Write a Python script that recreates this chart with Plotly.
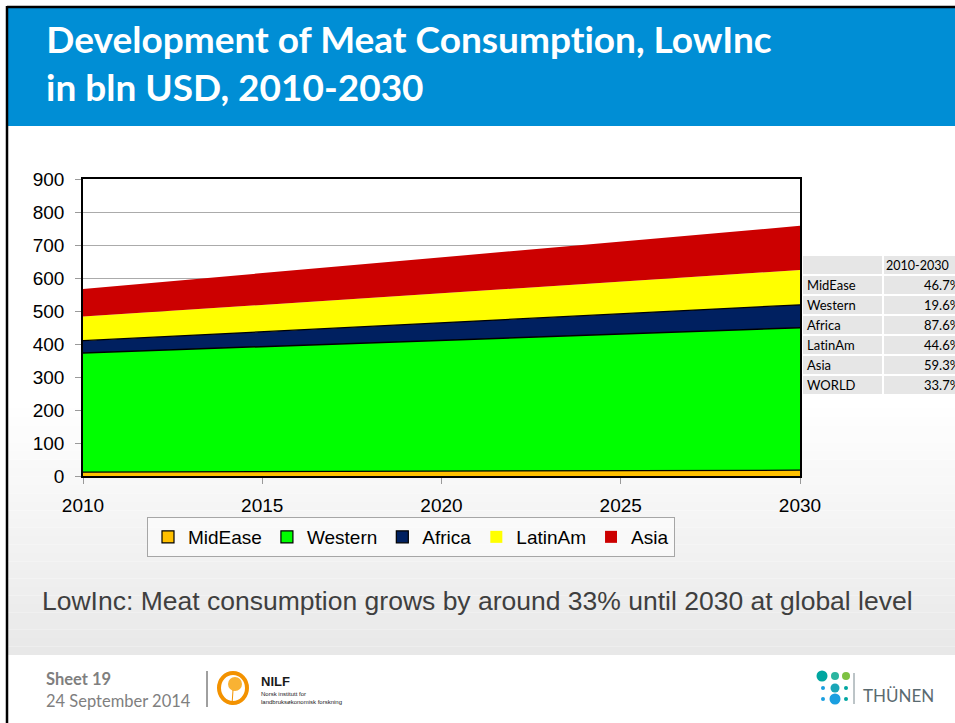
import plotly.graph_objects as go

# ---- data -------------------------------------------------------------
years = [2010, 2030]
regions = ["MidEase", "Western", "Africa", "LatinAm", "Asia"]
mid_ease = [12.0, 17.6]
western = [361.0, 431.8]
africa = [37.0, 69.4]
latin_am = [73.0, 105.6]
asia = [84.0, 133.8]

growth_labels = ["MidEase", "Western", "Africa", "LatinAm", "Asia", "WORLD"]
growth_pct = [46.7, 19.6, 87.6, 44.6, 59.3, 33.7]
growth_header = "2010-2030"

x_ticks = [2010, 2015, 2020, 2025, 2030]
y_ticks = [0, 100, 200, 300, 400, 500, 600, 700, 800, 900]

series = [mid_ease, western, africa, latin_am, asia]
fill_colors = ["#FFC000", "#00FF00", "#002060", "#FFFF00", "#CC0000"]
edge_widths = [1.2, 1.5, 1.2, 0, 0]

# ---- page geometry (pixels) ------------------------------------------
W, H = 955, 723
PL, PR, PT, PB = 83, 800, 179, 476   # plot-area box


def px(x):
    return (x - PL) / (PR - PL)


def py(y):
    return (PB - y) / (PB - PT)


fig = go.Figure()

for name, vals, col, lw in zip(regions, series, fill_colors, edge_widths):
    fig.add_trace(go.Scatter(
        x=years, y=vals, name=name, stackgroup="meat", mode="lines",
        fillcolor=col,
        line=dict(color="black" if lw else col, width=lw),
        showlegend=False, hoverinfo="x+y+name",
    ))

# square legend keys
for name, col, lw in zip(regions, fill_colors, edge_widths):
    fig.add_trace(go.Bar(
        x=[None], y=[None], name=name, marker_color=col,
        marker_line=dict(color="black" if lw else col, width=1.2 if lw else 0),
        showlegend=True,
    ))

shapes = []
annotations = []

# soft grey gradient toward the lower part of the slide
n_steps = 30
g_top, g_bot = 400, 655
for i in range(n_steps):
    y0 = g_top + (g_bot - g_top) * i / n_steps
    y1 = g_top + (g_bot - g_top) * (i + 1) / n_steps
    t = (i + 0.5) / n_steps
    v = int(round(255 - (255 - 232) * t))
    shapes.append(dict(type="rect", xref="paper", yref="paper",
                       x0=px(7), x1=px(W), y0=py(y1), y1=py(y0),
                       fillcolor=f"rgb({v},{v},{v})", line_width=0,
                       layer="below"))

# blue header band and frame
shapes.append(dict(type="rect", xref="paper", yref="paper",
                   x0=px(7), x1=px(W + 5), y0=py(126), y1=py(7),
                   fillcolor="#008ED5", line_width=0, layer="below"))
shapes.append(dict(type="line", xref="paper", yref="paper",
                   x0=px(7), x1=px(W + 5), y0=py(7), y1=py(7),
                   line=dict(color="black", width=2.5)))
shapes.append(dict(type="line", xref="paper", yref="paper",
                   x0=px(7), x1=px(7), y0=py(6), y1=py(H + 5),
                   line=dict(color="black", width=2.5)))

annotations.append(dict(
    text="<b>Development of Meat Consumption, LowInc</b>",
    xref="paper", yref="paper", x=px(44), y=py(39),
    xanchor="left", yanchor="middle", showarrow=False,
    font=dict(family="Lato", size=37, color="white")))
annotations.append(dict(text="<b>in bln USD, 2010-2030</b>",
                        xref="paper", yref="paper", x=px(44), y=py(86),
                        xanchor="left", yanchor="middle", showarrow=False,
                        font=dict(family="Lato", size=37, color="white")))

# growth table to the right of the chart
row_h = 20
tab_top = 256
c1x0, c1x1, c2x0, c2x1 = 803, 882, 884, 970
rows = [("", growth_header)] + [(lab, f"{v:.1f}%") for lab, v in zip(growth_labels, growth_pct)]
for i, (lab, val) in enumerate(rows):
    y0 = tab_top + i * row_h
    y1 = y0 + row_h - 2
    for xa, xb in ((c1x0, c1x1), (c2x0, c2x1)):
        shapes.append(dict(type="rect", xref="paper", yref="paper",
                           x0=px(xa), x1=px(xb), y0=py(y1), y1=py(y0),
                           fillcolor="#E6E6E6", line_width=0))
    yc = (y0 + y1) / 2
    if i == 0:
        annotations.append(dict(text=val, xref="paper", yref="paper",
                                x=px(884), y=py(yc), xanchor="left",
                                yanchor="middle", showarrow=False,
                                font=dict(family="Lato", size=12.5, color="black")))
    else:
        annotations.append(dict(text=lab, xref="paper", yref="paper",
                                x=px(805), y=py(yc), xanchor="left",
                                yanchor="middle", showarrow=False,
                                font=dict(family="Lato", size=13, color="black")))
        annotations.append(dict(text=val, xref="paper", yref="paper",
                                x=px(962), y=py(yc), xanchor="right",
                                yanchor="middle", showarrow=False,
                                font=dict(family="Lato", size=13, color="black")))

# key message line
annotations.append(dict(
    text="LowInc: Meat consumption grows by around 33% until 2030 at global level",
    xref="paper", yref="paper", x=px(40), y=py(601), xanchor="left",
    yanchor="middle", showarrow=False,
    font=dict(family="Liberation Sans", size=26.5, color="#3F3F3F")))

# footer: white strip, sheet info and logos
shapes.append(dict(type="rect", xref="paper", yref="paper",
                   x0=px(8.5), x1=px(W + 5), y0=py(H + 5), y1=py(655),
                   fillcolor="white", line_width=0, layer="below"))
annotations.append(dict(text="<b>Sheet 19</b>", xref="paper", yref="paper",
                        x=px(44), y=py(679), xanchor="left", yanchor="middle",
                        showarrow=False,
                        font=dict(family="Lato", size=16.5, color="#7F7F7F")))
annotations.append(dict(text="24 September 2014", xref="paper", yref="paper",
                        x=px(44), y=py(701), xanchor="left", yanchor="middle",
                        showarrow=False,
                        font=dict(family="Lato", size=16.5, color="#7F7F7F")))
shapes.append(dict(type="line", xref="paper", yref="paper",
                   x0=px(207), x1=px(207), y0=py(671), y1=py(707),
                   line=dict(color="#404040", width=1)))
# NILF emblem
shapes.append(dict(type="circle", xref="paper", yref="paper",
                   x0=px(219), x1=px(247), y0=py(703), y1=py(673),
                   line=dict(color="#F39200", width=4), fillcolor="rgba(0,0,0,0)"))
shapes.append(dict(type="circle", xref="paper", yref="paper",
                   x0=px(228), x1=px(242), y0=py(691), y1=py(677),
                   line_width=0, fillcolor="#F9B233"))
shapes.append(dict(type="line", xref="paper", yref="paper",
                   x0=px(233), x1=px(232), y0=py(690), y1=py(705),
                   line=dict(color="#F39200", width=1)))
annotations.append(dict(text="<b>NILF</b>", xref="paper", yref="paper",
                        x=px(259), y=py(681), xanchor="left", yanchor="middle",
                        showarrow=False,
                        font=dict(family="Liberation Sans", size=13, color="#1a1a1a")))
annotations.append(dict(text="Norsk institutt for<br>landbruksøkonomisk forskning",
                        xref="paper", yref="paper", x=px(259), y=py(698),
                        xanchor="left", yanchor="middle", showarrow=False,
                        align="left",
                        font=dict(family="Liberation Sans", size=6, color="#1a1a1a")))
# THÜNEN emblem
dots = [(822, 676, 5.5, "#00A6A0"), (835, 676, 4, "#2BB5A0"), (846, 676, 4, "#7DC242"),
        (823, 688, 2, "#1A9FE0"), (835, 688, 4.5, "#1AA6B7"), (846, 688, 2, "#00A6A0"),
        (823, 699, 2, "#1A9FE0"), (835, 699, 5.5, "#1A9FE0"), (846, 699, 2, "#00A6A0")]
for cx, cy, r, c in dots:
    shapes.append(dict(type="circle", xref="paper", yref="paper",
                       x0=px(cx - r), x1=px(cx + r), y0=py(cy + r), y1=py(cy - r),
                       line_width=0, fillcolor=c))
shapes.append(dict(type="line", xref="paper", yref="paper",
                   x0=px(854), x1=px(854), y0=py(673), y1=py(704),
                   line=dict(color="#7A8A90", width=1)))
annotations.append(dict(text="THÜNEN", xref="paper", yref="paper",
                        x=px(861), y=py(695), xanchor="left", yanchor="middle",
                        showarrow=False,
                        font=dict(family="Lato", size=17, color="#5A6A70")))

fig.update_layout(
    width=W, height=H,
    margin=dict(l=PL, r=W - PR, t=PT, b=H - PB, autoexpand=False),
    paper_bgcolor="white", plot_bgcolor="rgba(255,255,255,0)",
    font=dict(family="Liberation Sans", color="black"),
    shapes=shapes, annotations=annotations,
    legend=dict(orientation="h", x=px(147), y=py(517), xanchor="left",
                yanchor="top", bordercolor="#A6A6A6", borderwidth=1,
                bgcolor="rgba(255,255,255,0.5)", traceorder="normal",
                font=dict(family="Liberation Sans", size=19, color="black"),
                itemclick=False, itemdoubleclick=False),
    xaxis=dict(range=[2010, 2030], tickvals=x_ticks, showgrid=False,
               ticks="outside", ticklen=6, tickcolor="#9A9A9A",
               showline=True, linecolor="black", linewidth=1.5, mirror=True,
               tickfont=dict(size=19, color="black"), ticklabelstandoff=5,
               zeroline=False, fixedrange=True),
    yaxis=dict(range=[0, 900], tickvals=y_ticks, showgrid=True,
               gridcolor="#ABABAB", gridwidth=1,
               ticks="outside", ticklen=6, tickcolor="#9A9A9A",
               showline=True, linecolor="black", linewidth=1.5, mirror=True,
               tickfont=dict(size=19, color="black"), ticklabelstandoff=7,
               zeroline=False, fixedrange=True),
    showlegend=True,
)

# render all SVG text without typographic ligatures
no_ligatures = (
    "var s=document.createElement('style');"
    "s.textContent='.main-svg text, .main-svg tspan{font-variant-ligatures:none;"
    "font-feature-settings:\"liga\" 0, \"clig\" 0, \"dlig\" 0;}';"
    "document.head.appendChild(s);"
)
fig.write_html("out.html", post_script=no_ligatures)
